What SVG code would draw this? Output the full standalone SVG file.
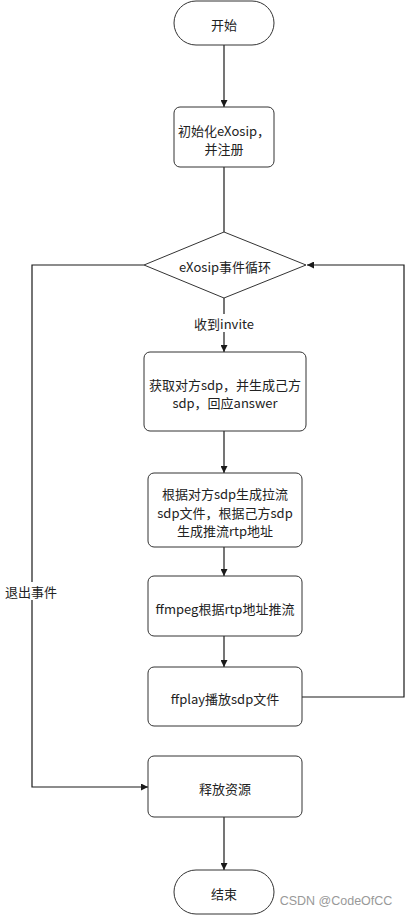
<svg xmlns="http://www.w3.org/2000/svg" width="409" height="915" viewBox="0 0 409 915">
<defs>
<marker id="arr" viewBox="0 0 10 10" refX="10" refY="5" markerWidth="7" markerHeight="7" markerUnits="userSpaceOnUse" orient="auto">
<path d="M0,0 L10,5 L0,10 z" fill="#1a1a1a"/>
</marker>
<style>
.n{fill:#fff;stroke:#333;stroke-width:1}
.t{font-family:"Noto Sans CJK SC","Microsoft YaHei",sans-serif;font-size:13px;fill:#222;text-anchor:middle;dominant-baseline:central}
.c{fill:none;stroke:#1a1a1a;stroke-width:1.2}
.lb{fill:#fff}
</style>
</defs>
<rect width="409" height="915" fill="#fff"/>
<g id="connectors">
<path class="c" d="M224,45 V107" marker-end="url(#arr)"/>
<path class="c" d="M224,167 V232"/>
<path class="c" d="M224,298 V352" marker-end="url(#arr)"/>
<path class="c" d="M224,431 V473" marker-end="url(#arr)"/>
<path class="c" d="M224,547 V576" marker-end="url(#arr)"/>
<path class="c" d="M224,636 V667" marker-end="url(#arr)"/>
<path class="c" d="M302,697 H404 V265 H307" marker-end="url(#arr)"/>
<path class="c" d="M144,265 H32 V787 H148" marker-end="url(#arr)"/>
<path class="c" d="M224,817 V870" marker-end="url(#arr)"/>
<rect class="lb" x="193" y="314" width="62" height="18"/>
<text class="t" x="224" y="323">收到invite</text>
<rect class="lb" x="4" y="582" width="55" height="18"/>
<text class="t" x="31" y="591">退出事件</text>
</g>
<g id="start">
<rect class="n" x="174" y="1" width="100" height="44" rx="22"/>
<text class="t" x="224" y="24">开始</text>
</g>
<g id="init">
<rect class="n" x="174" y="107" width="100" height="60" rx="6"/>
<text class="t" x="224" y="130">初始化eXosip，</text>
<text class="t" x="224" y="148">并注册</text>
</g>
<g id="loop">
<polygon class="n" points="224,232 306,265 224,298 144,265"/>
<text class="t" x="225" y="266">eXosip事件循环</text>
</g>
<g id="sdp">
<rect class="n" x="144" y="352" width="162" height="79" rx="6"/>
<text class="t" x="225" y="384">获取对方sdp，并生成己方</text>
<text class="t" x="225" y="402">sdp，回应answer</text>
</g>
<g id="gen">
<rect class="n" x="148" y="473" width="154" height="74" rx="6"/>
<text class="t" x="225" y="493">根据对方sdp生成拉流</text>
<text class="t" x="225" y="512">sdp文件，根据己方sdp</text>
<text class="t" x="225" y="530">生成推流rtp地址</text>
</g>
<g id="ffmpeg">
<rect class="n" x="148" y="576" width="154" height="60" rx="6"/>
<text class="t" x="225" y="608">ffmpeg根据rtp地址推流</text>
</g>
<g id="ffplay">
<rect class="n" x="148" y="667" width="154" height="59" rx="6"/>
<text class="t" x="225" y="698">ffplay播放sdp文件</text>
</g>
<g id="release">
<rect class="n" x="148" y="756" width="154" height="61" rx="6"/>
<text class="t" x="225" y="788">释放资源</text>
</g>
<g id="end">
<rect class="n" x="174" y="870" width="100" height="44" rx="22"/>
<text class="t" x="224" y="893">结束</text>
</g>
<text x="336" y="901" font-family="Liberation Sans, Arial, sans-serif" font-size="12.5" fill="#999" text-anchor="middle" dominant-baseline="central">CSDN @CodeOfCC</text>
</svg>
